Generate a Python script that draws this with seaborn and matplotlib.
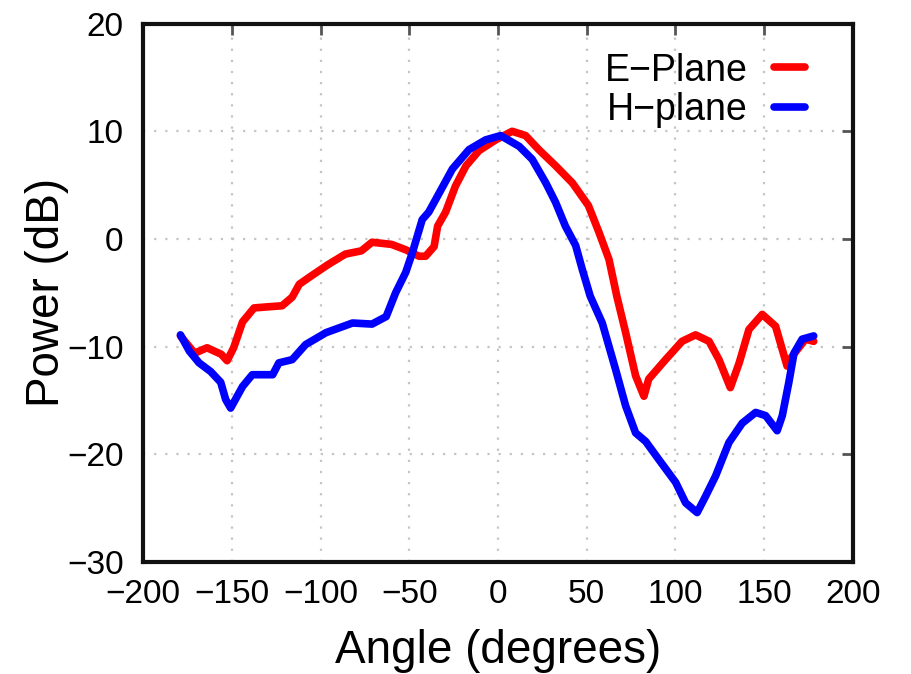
import numpy as np
import pandas as pd
import matplotlib
matplotlib.use('Agg')
import matplotlib.pyplot as plt
import seaborn as sns

# values
e_angle = [-179, -171, -164, -156, -152.7, -149, -144, -137.5, -130, -121.7,
           -116, -112, -105, -96, -86, -77, -71, -60, -52, -44.5,
           -40.8, -36, -34, -29.5, -24, -18, -10.7, -1.3, 8, 15.6,
           23, 32.5, 42, 51, 57, 62.6, 67, 72, 77.6, 82.3,
           85, 94.5, 103.8, 111.4, 119, 124.6, 131, 136, 141.5, 149,
           156.5, 163, 165.8, 173.4, 178]
e_power = [-9.0, -10.6, -10.1, -10.7, -11.3, -10.1, -7.7, -6.4, -6.3, -6.2,
           -5.4, -4.2, -3.4, -2.4, -1.4, -1.1, -0.3, -0.5, -1.0, -1.6,
           -1.6, -0.7, 1.2, 2.5, 4.9, 6.8, 8.2, 9.2, 10.0, 9.6,
           8.3, 6.8, 5.2, 3.1, 0.6, -1.9, -5.3, -8.7, -12.7, -14.6,
           -13.0, -11.2, -9.5, -8.9, -9.5, -11.2, -13.8, -11.5, -8.4, -7.0,
           -8.1, -11.8, -10.9, -9.3, -9.5]

h_angle = [-179, -174, -168.5, -162, -156.3, -153.5, -150.7, -144, -138.5, -127,
           -123.5, -116, -108.4, -97, -82, -71, -63, -57.7, -52, -48.3,
           -42.7, -39, -33, -25.7, -16.3, -7, 1.5, 12, 19.3, 27,
           32.5, 38, 43.8, 47.5, 52, 58.8, 66.3, 72, 77.6, 83.3,
           90.8, 100.2, 105.8, 112.3, 117, 122.7, 130.2, 137.7, 145.3, 150.9,
           157.4, 160.3, 164, 166.9, 171.5, 178]
h_power = [-8.9, -10.4, -11.5, -12.3, -13.3, -14.9, -15.7, -13.7, -12.6, -12.6,
           -11.5, -11.2, -9.8, -8.7, -7.8, -7.9, -7.2, -5.0, -3.1, -1.3,
           1.8, 2.5, 4.3, 6.5, 8.3, 9.2, 9.6, 8.6, 7.4, 5.2,
           3.4, 1.2, -0.6, -2.8, -5.3, -7.8, -12.1, -15.5, -18.0, -18.8,
           -20.5, -22.6, -24.5, -25.4, -23.9, -22.0, -18.9, -17.1, -16.1, -16.4,
           -17.8, -16.4, -13.3, -10.6, -9.3, -9.0]

series = ['E\u2212Plane', 'H\u2212plane']
colors = ['#ff0000', '#0000ff']
x_ticks = [-200, -150, -100, -50, 0, 50, 100, 150, 200]
y_ticks = [-30, -20, -10, 0, 10, 20]

d = pd.concat([
    pd.DataFrame({'angle': e_angle, 'power': e_power, 'plane': series[0]}),
    pd.DataFrame({'angle': h_angle, 'power': h_power, 'plane': series[1]}),
], ignore_index=True)

sns.set_style('white')
plt.rcParams['font.family'] = ['Liberation Sans', 'DejaVu Sans']
plt.rcParams['axes.unicode_minus'] = True
plt.rcParams['text.color'] = 'black'

fig, ax = plt.subplots(1, 1, figsize=(9.12, 6.74), dpi=100)
fig.subplots_adjust(left=0.157, right=0.935, bottom=0.166, top=0.965)

sns.lineplot(data=d, x='angle', y='power', hue='plane', palette=colors,
             estimator=None, sort=False, linewidth=5.5, ax=ax)

ax.set_xlim(-200, 200)
ax.set_ylim(-30, 20)
ax.set_xticks(x_ticks)
ax.set_yticks(y_ticks)
ax.grid(True, color='#c4c4c4', linestyle=(0, (1, 4)), linewidth=1.6)
ax.tick_params(axis='both', direction='in', length=8, width=2, color='#555555',
               labelsize=24, top=True, right=True, labelcolor='black')
ax.tick_params(axis='x', pad=12)
ax.tick_params(axis='y', pad=14)
for s in ax.spines.values():
    s.set_linewidth(3)
    s.set_color('#111111')
    s.set_visible(True)

ax.set_xlabel('Angle (degrees)', fontsize=33, labelpad=14, color='black')
ax.set_ylabel('Power (dB)', fontsize=33, labelpad=-1, color='black')

leg = ax.legend(loc='upper right', bbox_to_anchor=(0.97, 0.995), frameon=False,
                markerfirst=False, fontsize=27, handlelength=0.83,
                borderaxespad=0.3, labelspacing=0.1, handletextpad=0.7)
for t in leg.get_texts():
    t.set_color('black')
for h in leg.legend_handles:
    h.set_linewidth(5.5)

fig.savefig('out.png', dpi=100)
